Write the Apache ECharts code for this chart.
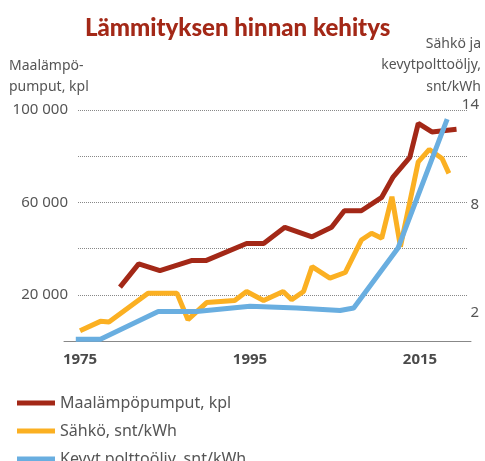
<!DOCTYPE html>
<html>
<head>
<meta charset="utf-8">
<script src="https://cdn.jsdelivr.net/npm/echarts@6/dist/echarts.min.js"></script>
<style>
html, body { margin: 0; padding: 0; background: #fff; }
#chart { width: 485px; height: 461px; }
</style>
</head>
<body>
<div id="chart"></div>
<script>
// values
const seriesNames = ['Maalämpöpumput, kpl', 'Sähkö, snt/kWh', 'Kevyt polttoöljy, snt/kWh'];
const yearTicks = [1975, 1995, 2015];
const leftTicks = [20000, 60000, 100000];
const rightTicks = [2, 8, 14];

const pumpYears = [1979.7, 1981.9, 1984.4, 1988.1, 1989.8, 1994.6, 1996.6, 1999.1, 2002.3, 2004.6, 2006.1, 2008.1, 2010.5, 2011.8, 2013.8, 2014.8, 2016.4, 2019.3];
const pumpValues = [23300, 33400, 30500, 34800, 34800, 42200, 42200, 49200, 45100, 49200, 56400, 56400, 62200, 70800, 79500, 94200, 90500, 91700];

const elecYears = [1975, 1977.4, 1978.4, 1983, 1986.4, 1987.7, 1989.9, 1993.2, 1994.6, 1996.6, 1998.9, 1999.9, 2001.3, 2002.3, 2004.4, 2006.2, 2008.1, 2009.3, 2010.5, 2011.7, 2012.7, 2014.8, 2016.1, 2017.6, 2018.4];
const elecValues = [0.62, 1.19, 1.15, 2.90, 2.90, 1.29, 2.33, 2.45, 3.00, 2.45, 3.00, 2.50, 3.00, 4.51, 3.81, 4.15, 6.12, 6.53, 6.23, 8.74, 5.72, 10.86, 11.61, 11.06, 10.16];

const oilYears = [1974.5, 1977.4, 1984.2, 1988.7, 1995.0, 2000.5, 2005.6, 2007.2, 2012.4, 2018.2];
const oilValues = [0.11, 0.11, 1.79, 1.79, 2.10, 2.00, 1.85, 2.00, 5.62, 13.45];

const colors = ['#a32817', '#fbb022', '#69aee0'];

function pairs(xs, ys) {
    return xs.map((x, i) => [x, ys[i]]);
}

const chart = echarts.init(document.getElementById('chart'));
const font = 'Noto Sans';
const grey = '#555';

// one legend per row so that the last row may run off the bottom edge
const legends = seriesNames.map((name, i) => ({
    left: 12,
    top: 389 + i * 28,
    icon: 'rect',
    itemWidth: 38,
    itemHeight: 5,
    textStyle: { fontSize: 16, color: grey, lineHeight: 18 },
    data: [name]
}));

const option = {
    animation: false,
    textStyle: { fontFamily: font },
    title: {
        text: 'Lämmityksen hinnan kehitys',
        left: 80,
        top: 11,
        textStyle: { fontFamily: 'Lato', fontWeight: 900, fontSize: 24, color: '#a32817' }
    },
    graphic: [
        {
            type: 'text', x: 9, y: 55,
            style: { text: 'Maalämpö-\npumput, kpl', font: '14px "Noto Sans"', fill: grey, lineHeight: 21.5 }
        },
        {
            type: 'text', x: 481, y: 33,
            style: { text: 'Sähkö ja\nkevytpolttoöljy,\nsnt/kWh', font: '14px "Noto Sans"', fill: grey, lineHeight: 21.5, align: 'right' }
        }
    ],
    legend: legends,
    grid: [
        { left: 78, right: 17, top: 110, bottom: 120 },
        { left: 64, right: 14, top: 110, bottom: 120 }
    ],
    xAxis: [
        {
            gridIndex: 0,
            type: 'value',
            min: 1974.76,
            max: 2020.65,
            axisLine: { show: false },
            axisTick: { show: false },
            splitLine: { show: false },
            axisLabel: {
                customValues: yearTicks,
                margin: 11,
                fontSize: 15,
                fontWeight: 'bold',
                color: '#4a4a4a',
                formatter: v => String(v)
            }
        },
        {
            gridIndex: 1,
            type: 'value',
            min: 0,
            max: 1,
            axisLine: { show: true, lineStyle: { color: '#888', width: 1 } },
            axisTick: { show: false },
            axisLabel: { show: false },
            splitLine: { show: false }
        }
    ],
    yAxis: [
        {
            gridIndex: 0,
            type: 'value',
            min: 0,
            max: 100000,
            interval: 20000,
            axisLine: { show: false },
            axisTick: { show: false },
            splitLine: { showMinLine: false, lineStyle: { type: 'dotted', color: '#888' } },
            axisLabel: {
                margin: 10,
                fontSize: 15,
                color: grey,
                formatter: v => leftTicks.includes(v) ? String(v).replace(/\B(?=(\d{3})+(?!\d))/g, ' ') : ''
            }
        },
        {
            gridIndex: 0,
            type: 'value',
            position: 'right',
            min: 0,
            max: 14,
            interval: 2,
            axisLine: { show: false },
            axisTick: { show: false },
            splitLine: { show: false },
            axisLabel: {
                align: 'right',
                margin: 11,
                fontSize: 15,
                color: grey,
                formatter: v => {
                    if (!rightTicks.includes(v)) return '';
                    if (v === 14) return '{a|' + v + '}';
                    if (v === 8) return '{b|' + v + '}';
                    return '{c|' + v + '}';
                },
                rich: {
                    a: { fontSize: 15, color: grey, padding: [0, 0, 10, 0] },
                    b: { fontSize: 15, color: grey, padding: [0, 0, 8, 0] },
                    c: { fontSize: 15, color: grey, padding: [9, 0, 0, 0] }
                }
            }
        },
        { gridIndex: 1, type: 'value', show: false }
    ],
    series: [
        {
            name: seriesNames[0], type: 'line', xAxisIndex: 0, yAxisIndex: 0,
            data: pairs(pumpYears, pumpValues),
            showSymbol: false, clip: false, color: colors[0],
            lineStyle: { width: 5 }, emphasis: { disabled: true }
        },
        {
            name: seriesNames[1], type: 'line', xAxisIndex: 0, yAxisIndex: 1,
            data: pairs(elecYears, elecValues),
            showSymbol: false, clip: false, color: colors[1],
            lineStyle: { width: 5 }, emphasis: { disabled: true }
        },
        {
            name: seriesNames[2], type: 'line', xAxisIndex: 0, yAxisIndex: 1,
            data: pairs(oilYears, oilValues),
            showSymbol: false, clip: false, color: colors[2],
            lineStyle: { width: 5 }, emphasis: { disabled: true }
        }
    ]
};

chart.setOption(option);
</script>
</body>
</html>
